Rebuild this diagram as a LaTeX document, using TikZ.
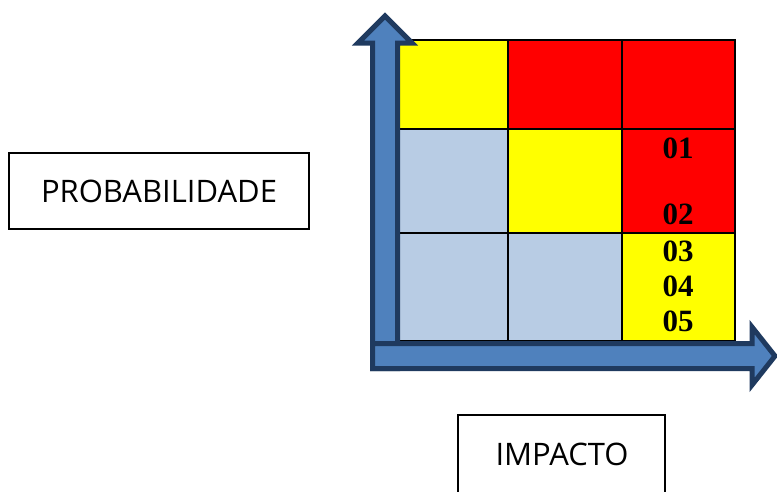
\documentclass[tikz,border=0pt]{standalone}
\usepackage{fontspec}
\setmainfont{Open Sans}
\newfontfamily\numfont{Liberation Serif}
\definecolor{cellyellow}{HTML}{FFFF00}
\definecolor{cellred}{HTML}{FF0000}
\definecolor{cellblue}{HTML}{B8CCE4}
\definecolor{arrowfill}{HTML}{4F81BD}
\definecolor{arrowline}{HTML}{1F3A5F}
\begin{document}
\begin{tikzpicture}[x=1pt,y=-1pt,
  cell/.style={draw=black,line width=1.3pt},
  bigarrow/.style={fill=arrowfill,draw=arrowline,line width=5pt,miter limit=10},
  labelbox/.style={draw=black,line width=1.3pt,font=\fontsize{31}{34}\selectfont,inner sep=0pt},
  num/.style={font=\numfont\bfseries\fontsize{31}{33}\selectfont}]
\useasboundingbox (0,0) rectangle (777,491);
% grid
\fill[cellyellow] (399,40) rectangle (508,129);
\fill[cellred] (508,40) rectangle (735,129);
\fill[cellblue] (399,129) rectangle (508,233);
\fill[cellyellow] (508,129) rectangle (622,233);
\fill[cellred] (622,129) rectangle (735,233);
\fill[cellblue] (399,233) rectangle (622,341);
\fill[cellyellow] (622,233) rectangle (735,341);
\draw[cell] (399,40) rectangle (735,341);
\draw[cell] (508,40) -- (508,341) (622,40) -- (622,341);
\draw[cell] (399,129) -- (735,129) (399,233) -- (735,233);
% numbers
\node[num] (n1) at (678,148) {01};
\node[num] (n2) at (678,214) {02};
\node[num] (n3) at (678,251) {03};
\node[num] (n4) at (678,286) {04};
\node[num] (n5) at (678,321) {05};
% arrows
\draw[bigarrow] (372.5,368.5) -- (372.5,43) -- (358,43) -- (385,16) -- (412,43) -- (397.5,43) -- (397.5,368.5) -- cycle;
\draw[bigarrow] (372.5,343.5) -- (752,343.5) -- (752,327) -- (775,356) -- (752,385) -- (752,368.5) -- (372.5,368.5) -- cycle;
% labels
\node[labelbox,minimum width=300pt,minimum height=76pt] (prob) at (159,191) {PROBABILIDADE};
\draw[line width=1.3pt] (458,495) -- (458,415) -- (665,415) -- (665,495);
\node[font=\fontsize{31}{34}\selectfont] (imp) at (562,454) {IMPACTO};
\end{tikzpicture}
\end{document}
